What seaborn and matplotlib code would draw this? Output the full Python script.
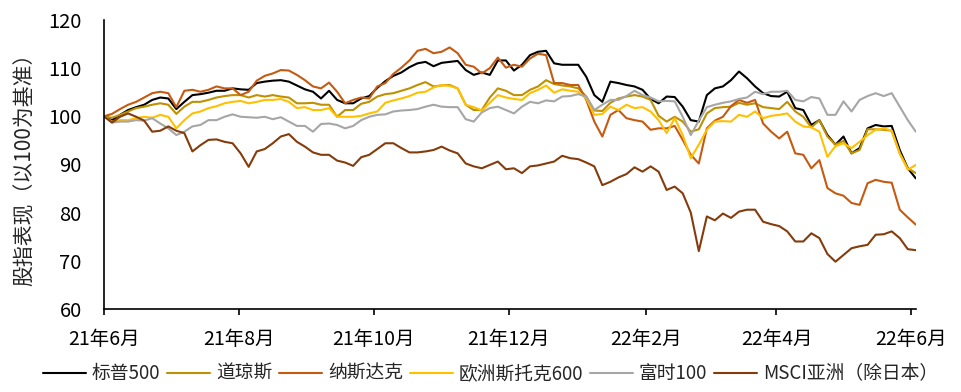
import numpy as np
import pandas as pd
import matplotlib
matplotlib.use("Agg")
import matplotlib.pyplot as plt
import seaborn as sns

# sample dates, roughly twice a week from Jun-2021 to Jun-2022
dates = pd.date_range("2021-06-01", "2022-06-03", periods=102)

spx = [100, 99.2, 100.3, 101.3, 101.9, 102.4, 103.4, 103.9, 103.7, 101.5, 103, 104.4, 104.6, 104.9, 105.3, 105.3, 105.8, 105.6,
       105.5, 106.9, 107.2, 107.4, 107.5, 107.2, 106.4, 105.6, 105.1, 103.7, 105.3, 103.4, 102.7, 102.7, 103.7, 104.2, 105.9,
       107.3, 108.4, 109.1, 110.2, 111, 111.3, 110.4, 111.1, 111.3, 111.5, 109.6, 108.6, 109.1, 108.6, 111.6, 111.6, 109.5,
       110.7, 112.7, 113.4, 113.6, 111, 110.7, 110.7, 110.7, 108.2, 104.4, 103, 107.2, 106.9, 106.5, 106.2, 105.5, 103.6,
       102.7, 104.1, 104, 102, 99.2, 98.9, 104.4, 105.8, 106.2, 107.5, 109.3, 107.9, 106.2, 104.8, 104.2, 104.1, 105.1,
       101.7, 101.3, 98.2, 99.2, 96.1, 94.1, 95.8, 92.3, 93.4, 97.5, 98.2, 97.9, 98, 93, 89.2, 87.1]

dow = [100, 99.7, 100.3, 101, 101.7, 102, 102.4, 102.7, 102.4, 100.5, 102, 103, 103, 103.4, 103.9, 104.2, 104.4, 104.4,
       103.9, 104.4, 104.1, 104.4, 104.1, 103.9, 102.7, 102.7, 102.8, 102.4, 102.4, 99.9, 101.3, 101.3, 102.6, 103, 104.1,
       104.6, 104.8, 105.3, 105.8, 106.5, 107.1, 106.2, 106.4, 106.5, 105.8, 102.4, 101.3, 101.3, 103.9, 105.8, 105.3, 104.4,
       104.4, 105.5, 106.2, 107.5, 106.7, 106.4, 106.2, 105.8, 104.1, 101.2, 101.1, 102.8, 103.7, 104.1, 104.4, 104.1, 103.4,
       100.1, 98.9, 99.9, 98.9, 96.8, 97.3, 100.6, 101.7, 101.9, 102, 102.8, 102.4, 102.7, 101.9, 101.7, 101.5, 103,
       101, 99.9, 97.7, 99.2, 95.8, 94.1, 94.9, 92.3, 93, 97.3, 97.3, 97.2, 97, 92.3, 89.2, 88.2]

nasdaq = [100, 100.5, 101.5, 102.4, 103, 103.9, 104.8, 105.1, 104.8, 101.9, 105.3, 105.5, 105.1, 105.5, 106.2, 105.8, 105.8, 104.4,
          105.1, 107.4, 108.4, 108.9, 109.6, 109.5, 108.6, 107.5, 106.2, 105.8, 107, 105.1, 102.7, 103.4, 103.9, 103.7, 106.2,
          106.9, 108.8, 110.1, 111.6, 113.6, 114, 113.1, 113.4, 114.3, 113.1, 110.7, 110.3, 108.9, 110, 112.2, 110.1, 110.7,
          110.3, 112, 113, 112.7, 106.9, 106.9, 106.5, 106.5, 103.4, 98.9, 95.8, 100.3, 101.3, 99.6, 99.2, 98.9, 97.2,
          97.5, 97.5, 98, 95.1, 92, 90.2, 97.5, 99.1, 99.9, 102.1, 103.4, 102.8, 103.4, 98.5, 96.8, 95.4, 96.8,
          92.3, 92, 89.2, 90.9, 85.1, 84, 83.5, 82, 81.6, 86.1, 86.8, 86.4, 86.2, 80.6, 79, 77.5]

stoxx600 = [100, 98.9, 99.2, 99.2, 99.6, 99.9, 99.7, 100.3, 99.9, 97.5, 99.2, 100.6, 101, 101.7, 102.1, 102.7, 103, 103.2,
            102.7, 103, 103.4, 103.4, 103.6, 103, 101.7, 101.9, 101.3, 101.3, 101.7, 99.9, 99.9, 99.9, 100.1, 100.6, 101,
            102.8, 103.3, 103.7, 104.2, 104.9, 105.1, 106, 106.5, 106.3, 105.8, 102.4, 101.9, 101.2, 102.8, 104.4, 103.9, 103.6,
            103.4, 104.8, 105.5, 106.4, 104.9, 105.6, 105.3, 105.1, 103.7, 100.3, 100.5, 102, 101.3, 102.4, 101.7, 101.9, 101,
            99.2, 96.5, 99.6, 96.1, 91.3, 94.1, 97.2, 98.9, 99, 98.9, 100.3, 99.9, 101, 99.6, 100.1, 100.3, 100.6,
            98.9, 97.9, 97.7, 96.8, 91.6, 93.8, 94.4, 93.4, 94.7, 96.1, 97.2, 97.5, 97, 92.3, 88.9, 89.9]

ftse100 = [100, 98.7, 98.9, 98.9, 99.2, 99.1, 99.6, 98.5, 97.5, 96.1, 96.8, 97.9, 98.2, 99.2, 99.2, 99.9, 100.4, 99.9,
           99.8, 99.7, 99.9, 99.4, 99.8, 98.9, 98, 98, 96.8, 98.4, 98.5, 98.2, 97.5, 98, 99.2, 99.9, 100.3,
           100.4, 101, 101.2, 101.3, 101.5, 102, 102.4, 102, 101.9, 101.9, 99.4, 98.9, 100.8, 101.7, 102, 101.3, 100.6,
           102, 103, 102.7, 103.3, 103.1, 104.1, 104.2, 104.6, 104.1, 101.3, 102.4, 103.4, 103.4, 104.2, 105.3, 104.4, 103.9,
           103.1, 103.2, 103.1, 99.9, 96.1, 99.1, 101.9, 102.4, 102.8, 103.1, 103.6, 103.9, 105.1, 104.6, 105.1, 105.1, 105.3,
           103.4, 103.1, 104, 103.7, 100.3, 100.3, 103.1, 101, 103.4, 104.2, 104.8, 104.2, 104.8, 102, 99.2, 96.8]

msci_asia = [100, 98.7, 99.9, 100.6, 99.9, 99.1, 96.8, 97, 97.9, 97, 96.5, 92.7, 94, 95.1, 95.2, 94.7, 94.4, 92.3,
             89.5, 92.7, 93.2, 94.4, 95.8, 96.3, 94.7, 93.7, 92.5, 92, 92, 90.8, 90.4, 89.7, 91.5, 92, 93.2,
             94.4, 94.4, 93.4, 92.5, 92.5, 92.7, 93, 93.7, 92.9, 92.3, 90.2, 89.6, 89.2, 89.9, 90.6, 89, 89.2,
             88.2, 89.6, 89.8, 90.2, 90.6, 91.8, 91.3, 91.1, 90.4, 89.6, 85.7, 86.4, 87.3, 88, 89.4, 88.5, 89.6,
             88.5, 84.7, 85.4, 84, 80, 72, 79.2, 78.4, 79.8, 78.9, 80.2, 80.6, 80.6, 78.1, 77.6, 77.2, 76.1,
             74, 74, 75.7, 74.7, 71.4, 69.8, 71.2, 72.6, 73, 73.3, 75.4, 75.5, 76.1, 74.7, 72.4, 72.2]

series_names = ["标普500", "道琼斯", "纳斯达克", "欧洲斯托克600", "富时100", "MSCI亚洲（除日本）"]
series_values = [spx, dow, nasdaq, stoxx600, ftse100, msci_asia]
colors = ["#000000", "#BF9000", "#C55A11", "#FFC000", "#A6A6A6", "#843C0C"]

tick_dates = pd.to_datetime(["2021-06-01", "2021-08-01", "2021-10-01", "2021-12-01",
                             "2022-02-01", "2022-04-01", "2022-06-01"])
tick_labels = ["21年6月", "21年8月", "21年10月", "21年12月", "22年2月", "22年4月", "22年6月"]

# long-form table for seaborn
df = pd.concat([pd.DataFrame({"date": dates, "value": v, "series": n})
                for n, v in zip(series_names, series_values)], ignore_index=True)

sns.set_theme(style="white")
plt.rcParams["font.family"] = ["Noto Sans CJK SC", "DejaVu Sans"]

fig, ax = plt.subplots(figsize=(9.61, 3.92), dpi=100)
fig.subplots_adjust(left=0.1082, right=0.953, bottom=0.212, top=0.949)

sns.lineplot(data=df, x="date", y="value", hue="series", hue_order=series_names,
             palette=colors, linewidth=1.5, ax=ax)

ax.set_xlim(dates[0], dates[-1])
ax.set_ylim(60, 120)
ax.set_yticks(range(60, 121, 10))
ax.set_xticks(tick_dates)
ax.set_xticklabels(tick_labels)
ax.set_xlabel("")
ax.set_ylabel("股指表现（以100为基准）", fontsize=15, labelpad=9)

for s in ["top", "right"]:
    ax.spines[s].set_visible(False)
for s in ["left", "bottom"]:
    ax.spines[s].set_color("black")
    ax.spines[s].set_linewidth(1.2)
ax.tick_params(axis="y", length=0, pad=16, labelsize=14.5, colors="black")
ax.tick_params(axis="x", direction="out", length=4.5, width=1.2, pad=10,
               labelsize=14, colors="black", bottom=True)

handles, labels = ax.get_legend_handles_labels()
ax.get_legend().remove()
fig.legend(handles, labels, loc="center", bbox_to_anchor=(0.5104, 0.047), ncol=6,
           frameon=False, fontsize=13.5, handlelength=2.3, handletextpad=0.32,
           columnspacing=0.35)

fig.savefig("out.png", dpi=100)
